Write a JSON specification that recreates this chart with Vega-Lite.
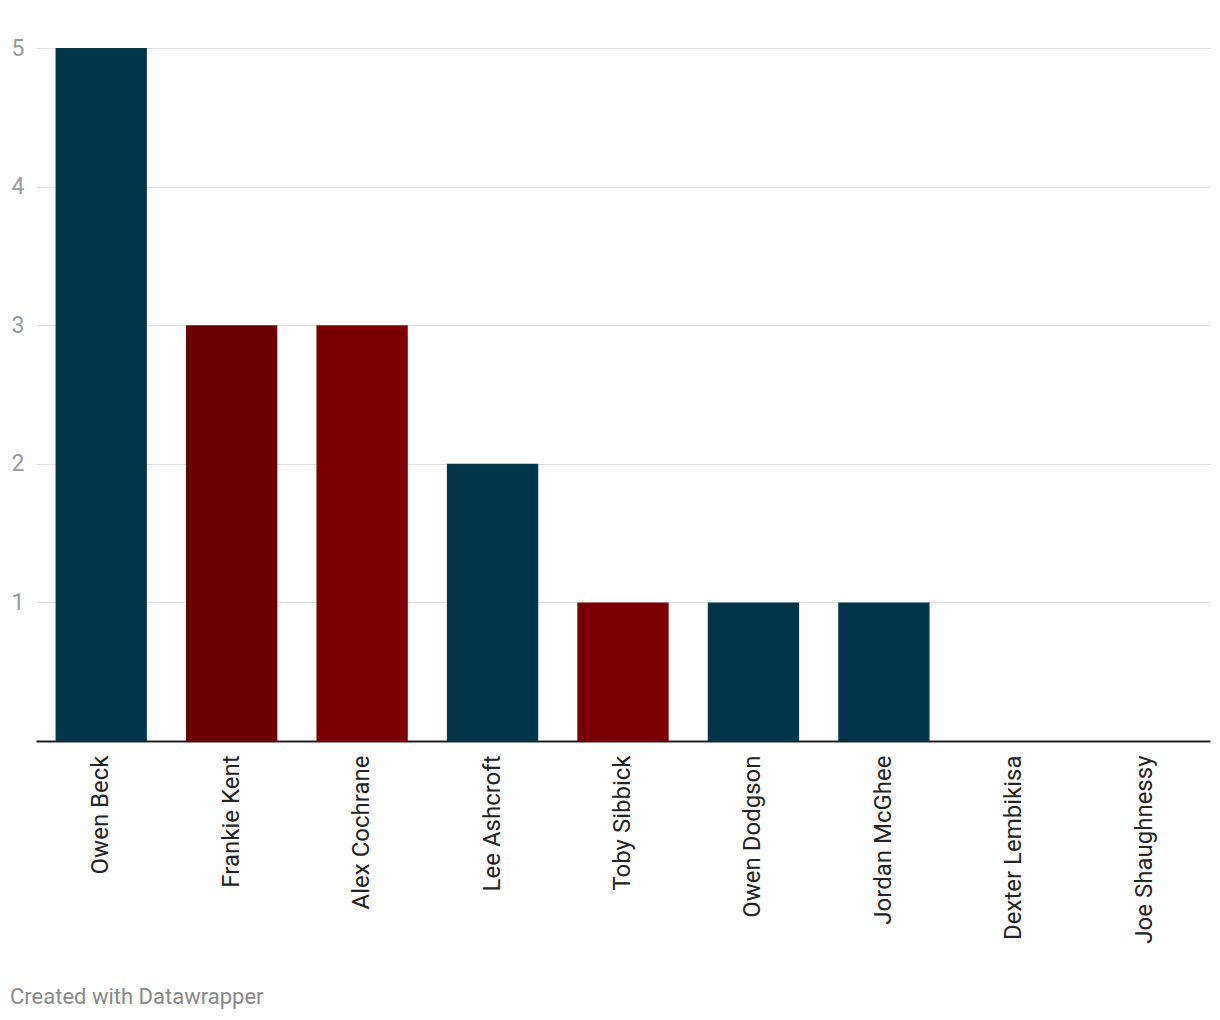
{
  "$schema": "https://vega.github.io/schema/vega-lite/v6.json",
  "width": 1174,
  "height": 693,
  "autosize": {"type": "none"},
  "padding": {"left": 36, "top": 48, "right": 10, "bottom": 279},
  "background": "white",
  "config": {"view": {"stroke": null}, "font": "Roboto"},
  "title": {
    "text": "Created with Datawrapper",
    "orient": "bottom",
    "anchor": "start",
    "frame": "group",
    "dx": -26,
    "offset": 44,
    "fontSize": 22,
    "fontWeight": "normal",
    "color": "#888888",
    "font": "Roboto"
  },
  "data": {
    "values": [
      {"player": "Owen Beck", "value": 5, "group": "A"},
      {"player": "Frankie Kent", "value": 3, "group": "B"},
      {"player": "Alex Cochrane", "value": 3, "group": "C"},
      {"player": "Lee Ashcroft", "value": 2, "group": "A"},
      {"player": "Toby Sibbick", "value": 1, "group": "C"},
      {"player": "Owen Dodgson", "value": 1, "group": "A"},
      {"player": "Jordan McGhee", "value": 1, "group": "A"},
      {"player": "Dexter Lembikisa", "value": 0, "group": "A"},
      {"player": "Joe Shaughnessy", "value": 0, "group": "A"}
    ]
  },
  "mark": {"type": "bar"},
  "encoding": {
    "x": {
      "field": "player",
      "type": "nominal",
      "sort": null,
      "scale": {"paddingInner": 0.3, "paddingOuter": 0.15},
      "axis": {
        "title": null,
        "labelAngle": -90,
        "labelAlign": "right",
        "labelBaseline": "middle",
        "labelFontSize": 24,
        "labelColor": "#222222",
        "labelPadding": 14,
        "labelLimit": 0,
        "ticks": false,
        "domainColor": "#222222",
        "domainWidth": 2,
        "labelFont": "Roboto"
      }
    },
    "y": {
      "field": "value",
      "type": "quantitative",
      "scale": {"domain": [0, 5], "nice": false},
      "axis": {
        "title": null,
        "values": [1, 2, 3, 4, 5],
        "domain": false,
        "ticks": false,
        "labelFontSize": 23,
        "labelColor": "#999999",
        "labelPadding": 12,
        "gridColor": "#e0e0e0",
        "gridWidth": 1,
        "labelFont": "Roboto"
      }
    },
    "color": {
      "field": "group",
      "type": "nominal",
      "scale": {"domain": ["A", "B", "C"], "range": ["#02344b", "#6b0000", "#7a0000"]},
      "legend": null
    }
  }
}
